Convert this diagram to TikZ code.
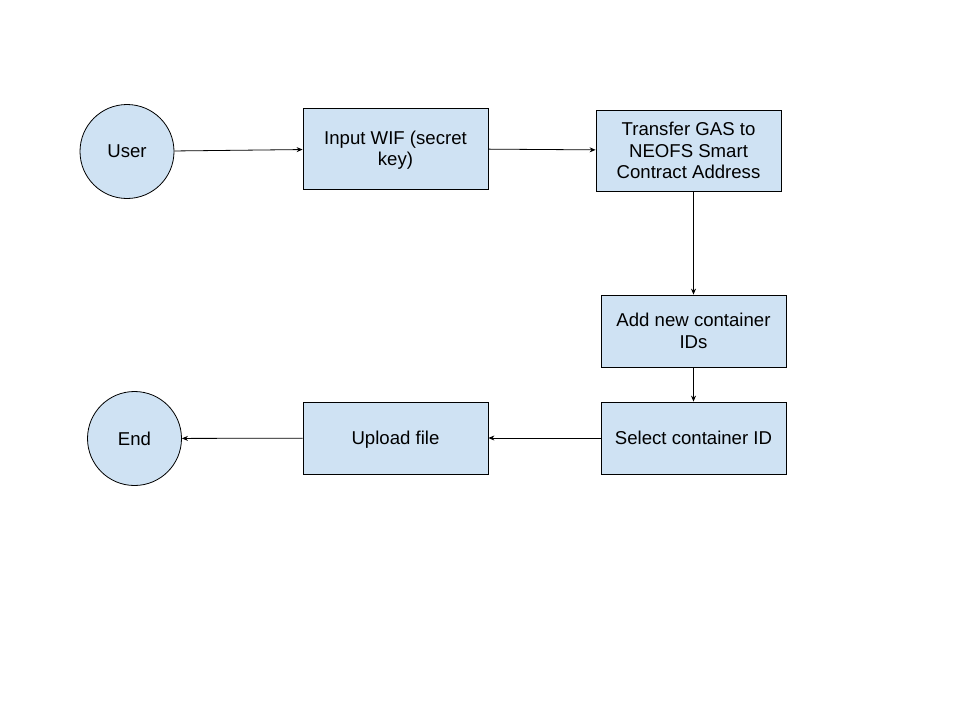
\documentclass[tikz,border=0pt]{standalone}
\usepackage{fontspec}
\setmainfont{Liberation Sans}
\usetikzlibrary{arrows.meta}
\definecolor{boxblue}{HTML}{CFE2F3}

\begin{document}
\begin{tikzpicture}[x=1pt, y=-1pt,
  flow/.style={draw=black, line width=0.8pt, fill=boxblue, inner sep=0pt,
    align=center, text depth=0pt, font=\fontsize{18.6}{21.5}\selectfont},
  stepbox/.style={flow, rectangle, minimum width=185pt},
  endpoint/.style={flow, circle, minimum size=94pt},
  link/.style={draw=black, line width=0.8pt, -{Stealth[length=6pt, width=5pt]}}]
  \useasboundingbox (0,0) rectangle (960,720);
  \node[endpoint] (user) at (127,151.5) {User};
  \node[stepbox, minimum height=81pt] (wif) at (395.5,148.5) {Input WIF (secret\\key)};
  \node[stepbox, minimum height=81pt] (gas) at (688.5,150.5) {Transfer GAS to\\NEOFS Smart\\Contract Address};
  \node[stepbox, minimum height=72pt] (add) at (693.5,331) {Add new container\\IDs};
  \node[stepbox, minimum height=72pt] (select) at (693.5,438) {Select container ID};
  \node[stepbox, minimum height=72pt] (upload) at (395.5,438) {Upload file};
  \node[endpoint] (end) at (134.5,438.5) {End};
  % connectors
  \draw[link] (user) -- (wif);
  \draw[link] (wif) -- (gas);
  \draw[link] (add.north |- gas.south) -- (add.north);
  \draw[link] (add) -- (select);
  \draw[link] (select) -- (upload);
  \draw[link] (upload) -- (end);
\end{tikzpicture}
\end{document}
